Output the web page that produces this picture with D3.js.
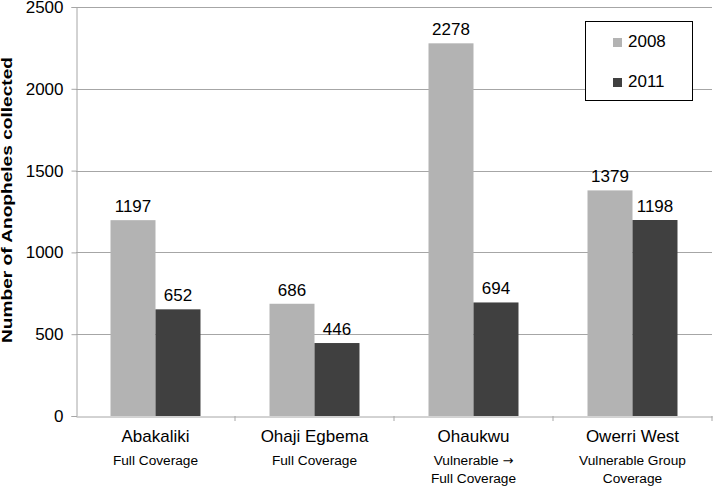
<!DOCTYPE html>
<html><head><meta charset="utf-8">
<script src="https://cdn.jsdelivr.net/npm/d3@7"></script>
<style>body{margin:0;background:#fff;} svg, svg text{font-family:"Liberation Sans",Arial,sans-serif;}</style>
</head><body>
<svg id="c" width="714" height="487"></svg>
<script>
const categories = ["Abakaliki","Ohaji Egbema","Ohaukwu","Owerri West"];
const subtitles = [["Full Coverage"],["Full Coverage"],["Vulnerable \u2192","Full Coverage"],["Vulnerable Group","Coverage"]];
const seriesNames = ["2008","2011"];
const values2008 = [1197,686,2278,1379];
const values2011 = [652,446,694,1198];
const yTicks = [0,500,1000,1500,2000,2500];
const colors = ["#b3b3b3","#404040"];

(function(){
const FF = "Liberation Sans, Arial, sans-serif";
const svg = d3.select("#c");
const mLeft = 76, mRight = 712, mTop = 7, mBottom = 416;
const x = d3.scaleBand().domain(categories).range([mLeft,mRight]).paddingInner(0).paddingOuter(0);
const y = d3.scaleLinear().domain([0,2500]).range([mBottom,mTop]);
const inner = d3.scaleBand().domain(seriesNames).range([0,x.bandwidth()]).paddingInner(0).paddingOuter(0.767);

// gridlines
svg.append("g").selectAll("line").data(yTicks.filter(d=>d>0)).join("line")
  .attr("x1",mLeft).attr("x2",mRight).attr("y1",d=>Math.round(y(d))+0.5).attr("y2",d=>Math.round(y(d))+0.5)
  .attr("stroke","#a6a6a6").attr("stroke-width",1);

// y axis
const ya = svg.append("g").attr("transform",`translate(${mLeft+0.5},0)`)
  .call(d3.axisLeft(y).tickValues(yTicks).tickFormat(d3.format("d")).tickSize(5).tickPadding(8));
ya.select(".domain").attr("stroke","#a6a6a6");
ya.selectAll(".tick line").attr("stroke","#a6a6a6");
ya.selectAll(".tick text").attr("font-size",17).attr("fill","#000").attr("font-family",FF);

// x axis
const xa = svg.append("g").attr("transform",`translate(0,${mBottom+0.5})`)
  .call(d3.axisBottom(x).tickSize(0).tickFormat(""));
xa.select(".domain").attr("stroke","#a6a6a6");
svg.append("g").selectAll("line").data(categories).join("line")
  .attr("x1",c=>x(c)+x.bandwidth()).attr("x2",c=>x(c)+x.bandwidth())
  .attr("y1",mBottom).attr("y2",mBottom+5).attr("stroke","#a6a6a6");

const data = seriesNames.map((s,si)=>({s, vals:(si===0?values2008:values2011)}));
data.forEach((ser,si)=>{
  const g = svg.append("g");
  g.selectAll("rect").data(categories).join("rect")
    .attr("x",(c)=>x(c)+inner(ser.s))
    .attr("width",inner.bandwidth())
    .attr("y",(c,i)=>y(ser.vals[i]))
    .attr("height",(c,i)=>mBottom-y(ser.vals[i]))
    .attr("fill",colors[si]);
  g.selectAll("text").data(categories).join("text")
    .attr("x",(c)=>x(c)+inner(ser.s)+inner.bandwidth()/2)
    .attr("y",(c,i)=>y(ser.vals[i])-8)
    .attr("text-anchor","middle").attr("font-size",17).attr("fill","#000").attr("font-family",FF)
    .text((c,i)=>ser.vals[i]);
});

// category labels
const cl = svg.append("g");
categories.forEach((c,i)=>{
  const cx = x(c)+x.bandwidth()/2;
  cl.append("text").attr("x",cx).attr("y",442).attr("text-anchor","middle")
    .attr("font-size",17).attr("fill","#000").attr("font-family",FF).text(c);
  subtitles[i].forEach((t,j)=>{
    const tx = cl.append("text").attr("x",cx).attr("y",465+j*18).attr("text-anchor","middle")
      .attr("font-size",13.7).attr("fill","#000").attr("font-family",FF);
    const parts = t.split("\u2192");
    tx.append("tspan").text(parts[0]);
    if (parts.length > 1) {
      tx.append("tspan").attr("font-family","DejaVu Sans, sans-serif").attr("font-size",13).text("\u2192");
      if (parts[1]) tx.append("tspan").text(parts[1]);
    }
  });
});

// y label
svg.append("text").attr("transform","translate(12,200) rotate(-90)")
  .attr("text-anchor","middle").attr("font-size",14.5).attr("font-weight","bold").attr("fill","#000")
  .attr("font-family",FF).attr("textLength",286).attr("lengthAdjust","spacingAndGlyphs")
  .text("Number of Anopheles collected");

// legend
const lg = svg.append("g");
lg.append("rect").attr("x",585.5).attr("y",21.5).attr("width",107).attr("height",79)
  .attr("fill","#fff").attr("stroke","#000").attr("stroke-width",1);
seriesNames.forEach((s,i)=>{
  const yy = 47 + i*40;
  lg.append("rect").attr("x",613).attr("y",yy-9).attr("width",9).attr("height",9).attr("fill",colors[i]);
  lg.append("text").attr("x",628).attr("y",yy).attr("font-size",17).attr("fill","#000").attr("font-family",FF).text(s);
});
})();
</script>
</body></html>
